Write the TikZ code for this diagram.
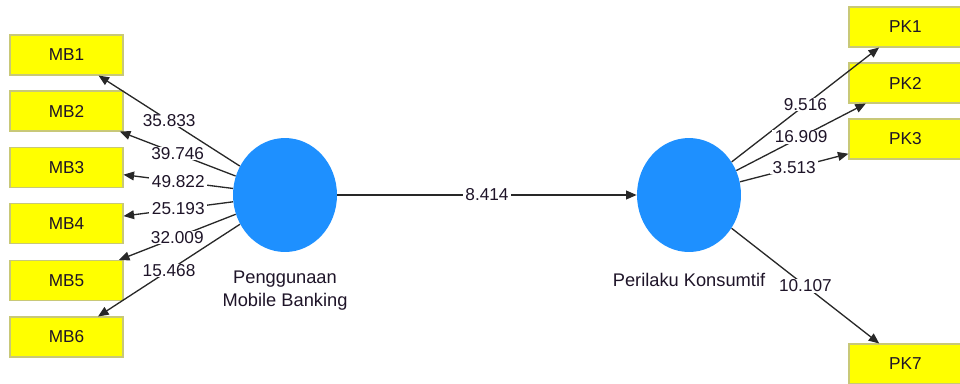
\documentclass[tikz,border=0pt]{standalone}
\usepackage{fontspec}
\setmainfont{Liberation Sans}
\usetikzlibrary{shapes.geometric,arrows.meta}
\definecolor{boxyellow}{RGB}{255,255,0}
\definecolor{boxedge}{RGB}{200,200,120}
\definecolor{lvblue}{RGB}{30,144,255}
\definecolor{linegray}{RGB}{40,40,40}
\definecolor{txt}{RGB}{30,20,40}
\begin{document}
\begin{tikzpicture}[x=0.02cm,y=-0.02cm,
  ind/.style={rectangle,fill=boxyellow,draw=boxedge,line width=0.6pt,
    minimum width=2.26cm,minimum height=0.8cm,inner sep=0pt,
    font=\fontsize{9.8}{11}\selectfont,text=txt},
  lv/.style={ellipse,fill=lvblue,draw=none,minimum width=2.08cm,
    minimum height=2.28cm,inner sep=0pt},
  arr/.style={draw=linegray,line width=0.75pt,
    -{Triangle[length=6pt,width=5pt]}},
  lbl/.style={fill=white,inner xsep=1.5pt,inner ysep=0.3pt,
    font=\fontsize{9.8}{11}\selectfont,text=txt},
  lvname/.style={align=center,font=\fontsize{10.4}{13}\selectfont,text=txt}]
\useasboundingbox (0,0) rectangle (960,383);
\clip (0,0) rectangle (960,383);
% latent variables
\node[lv] (pmb) at (285,195) {};
\node[lv] (pk) at (689,195) {};
% indicators
\node[ind] (mb1) at (66.5,55) {MB1};
\node[ind] (mb2) at (66.5,111) {MB2};
\node[ind] (mb3) at (66.5,167.5) {MB3};
\node[ind] (mb4) at (66.5,223.5) {MB4};
\node[ind] (mb5) at (66.5,280.5) {MB5};
\node[ind] (mb6) at (66.5,337) {MB6};
\node[ind] (pk1) at (905.5,27) {PK1};
\node[ind] (pk2) at (905.5,83) {PK2};
\node[ind] (pk3) at (905.5,139) {PK3};
\node[ind] (pk7) at (905.5,364) {PK7};
% connectors
\draw[arr] (pmb) -- (mb1) coordinate[pos=0.5] (l1);
\draw[arr] (pmb) -- (mb2) coordinate[pos=0.5] (l2);
\draw[arr] (pmb) -- (mb3) coordinate[pos=0.5] (l3);
\draw[arr] (pmb) -- (mb4) coordinate[pos=0.5] (l4);
\draw[arr] (pmb) -- (mb5) coordinate[pos=0.5] (l5);
\draw[arr] (pmb) -- (mb6) coordinate[pos=0.5] (l6);
\draw[arr] (pmb) -- (pk) coordinate[pos=0.5] (l7);
\draw[arr] (pk) -- (pk1) coordinate[pos=0.5] (r1);
\draw[arr] (pk) -- (pk2) coordinate[pos=0.5] (r2);
\draw[arr] (pk) -- (pk3) coordinate[pos=0.5] (r3);
\draw[arr] (pk) -- (pk7) coordinate[pos=0.5] (r7);
% labels
\node[lbl] (t1) at (l1) {35.833};
\node[lbl] (t2) at (l2) {39.746};
\node[lbl] (t3) at (l3) {49.822};
\node[lbl] (t4) at (l4) {25.193};
\node[lbl] (t5) at (l5) {32.009};
\node[lbl] (t6) at (l6) {15.468};
\node[lbl] (t7) at (l7) {8.414};
\node[lbl] (s1) at (r1) {9.516};
\node[lbl] (s2) at (r2) {16.909};
\node[lbl] (s3) at (r3) {3.513};
\node[lbl] (s7) at (r7) {10.107};
% names
\node[lvname] (npmb) at (285,291) {Penggunaan\\Mobile Banking};
\node[lvname] (npk) at (689,280) {Perilaku Konsumtif};
\end{tikzpicture}
\end{document}
